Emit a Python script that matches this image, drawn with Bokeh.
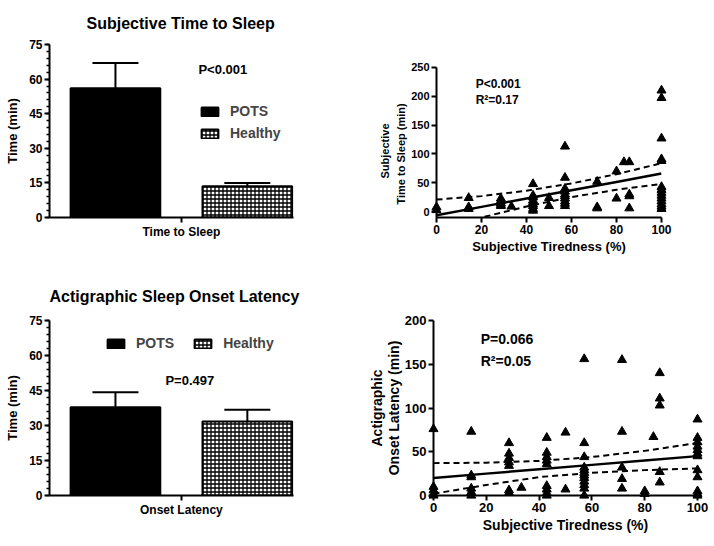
from bokeh.plotting import figure
from bokeh.models import (ColumnDataSource, Range1d, FixedTicker, SingleIntervalTicker,
                          Whisker, TeeHead, Legend, LegendItem, Label, Title)
from bokeh.layouts import column, row
from bokeh.embed import file_html
from bokeh.resources import INLINE

FONT = "Liberation Sans"

# ---------------- data ----------------
groups = ["POTS", "Healthy"]
sleep_mean = [56.0, 13.5]
sleep_sem = [11.0, 1.5]
onset_mean = [37.8, 31.7]
onset_sem = [6.5, 5.0]

# subjective tiredness (%) vs subjective time to sleep (min)
tired_sub = [0, 0,
             14.3, 14.3, 14.3,
             28.6, 28.6, 28.6, 28.6, 28.6,
             33.3,
             42.9, 42.9, 42.9, 42.9, 42.9, 42.9, 42.9, 42.9, 42.9,
             50, 50,
             57.1, 57.1, 57.1, 57.1, 57.1, 57.1, 57.1, 57.1, 57.1, 57.1,
             71.4, 71.4, 71.4,
             80, 80,
             83.3,
             85.7, 85.7, 85.7, 85.7,
             100, 100, 100, 100, 100, 100, 100, 100, 100, 100, 100, 100, 100, 100]
sleep_sub = [8, 3,
             24, 8, 5,
             23, 19, 15, 12, 10,
             9,
             48, 28, 25, 20, 17, 13, 10, 5, 2,
             24, 10,
             113, 59, 40, 35, 30, 27, 23, 18, 14, 10,
             52, 8, 6,
             70, 23,
             86,
             86, 30, 27, 6,
             210, 197, 127, 91, 88, 43, 38, 33, 28, 23, 18, 13, 9, 5]

fit_x = [0, 20, 40, 60, 80, 100]
sub_fit = [-6, 8.4, 22.8, 37.2, 51.6, 66]
sub_upper = [21, 27, 36.5, 49, 65, 84]
sub_lower = [-33, -10, 9, 25.4, 38, 48]

# subjective tiredness (%) vs actigraphic onset latency (min)
tired_act = [0, 0, 0, 0, 0,
             14.3, 14.3, 14.3, 14.3, 14.3, 14.3,
             28.6, 28.6, 28.6, 28.6, 28.6, 28.6, 28.6,
             33.3,
             42.9, 42.9, 42.9, 42.9, 42.9, 42.9, 42.9, 42.9, 42.9,
             50, 50,
             57.1, 57.1, 57.1, 57.1, 57.1, 57.1, 57.1, 57.1, 57.1, 57.1, 57.1, 57.1,
             71.4, 71.4, 71.4, 71.4, 71.4,
             80, 80,
             83.3,
             85.7, 85.7, 85.7, 85.7, 85.7,
             100, 100, 100, 100, 100, 100, 100, 100, 100, 100, 100, 100]
onset_act = [76, 10, 6, 2, 0,
             73, 23, 21, 8, 4, 0,
             60, 48, 43, 38, 34, 6, 3,
             9,
             66, 49, 44, 40, 36, 11, 7, 3, 0,
             72, 7,
             156, 60, 44, 32, 29, 26, 23, 20, 16, 12, 8, 0,
             155, 73, 32, 19, 8,
             5, 2,
             67,
             140, 111, 103, 27, 15,
             87, 66, 61, 56, 52, 48, 45, 29, 21, 5, 2, 0]

act_fit = [20, 25, 30, 35, 40, 45]
act_upper = [37, 37.5, 39.5, 44, 51, 60]
act_lower = [2, 12, 21, 26, 29, 31]

tired_ticks = [0, 20, 40, 60, 80, 100]
sub_ticks = [0, 50, 100, 150, 200, 250]
act_ticks = [0, 50, 100, 150, 200]


def style(p, tick_size, label_size, line_height=1.2):
    p.grid.visible = False
    p.outline_line_color = None
    p.background_fill_color = "white"
    for ax in p.axis:
        ax.axis_line_width = 2
        ax.axis_line_color = "black"
        ax.major_tick_line_width = 2
        ax.major_tick_line_color = "black"
        ax.major_tick_out = 5
        ax.major_tick_in = 0
        ax.minor_tick_out = 3
        ax.minor_tick_in = 0
        ax.minor_tick_line_width = 1.5
        ax.minor_tick_line_color = "black"
        ax.major_label_text_font = FONT
        ax.major_label_text_font_style = "bold"
        ax.major_label_text_font_size = tick_size
        ax.major_label_text_color = "black"
        ax.major_label_standoff = 2
        ax.axis_label_text_font = FONT
        ax.axis_label_text_font_style = "bold"
        ax.axis_label_text_font_size = label_size
        ax.axis_label_text_color = "black"
        ax.axis_label_standoff = 5
        ax.axis_label_text_line_height = line_height


def text_label(p, x, y, text, size):
    p.add_layout(Label(x=x, y=y, text=text,
                       text_font=FONT, text_font_style="bold", text_font_size=size,
                       text_align="left", text_baseline="middle", text_color="black",
                       level="overlay"))


def side_title(p, text, side, size, offset, standoff):
    p.add_layout(Title(text=text, align="left", offset=offset, standoff=standoff,
                       text_font=FONT, text_font_style="bold", text_font_size=size,
                       text_color="black"), side)


def bar_panel(title, title_off, title_standoff, means, sems, xlabel, ptext, pxy,
              legend_loc, orientation, height, mb_top, mb_bottom):
    xs = [i + 1 for i in range(len(groups))]
    p = figure(width=360, height=height, x_range=Range1d(0.5, 2.35), y_range=Range1d(0, 75),
               output_backend="svg", toolbar_location=None,
               min_border_left=49, min_border_right=67,
               min_border_top=mb_top, min_border_bottom=mb_bottom)
    r1 = p.vbar(x=xs[:1], top=means[:1], width=0.68, fill_color="black",
                line_color="black", line_width=2)
    r2 = p.vbar(x=xs[1:], top=means[1:], width=0.68, fill_color="white",
                line_color="black", line_width=2, hatch_pattern="cross",
                hatch_color="black", hatch_scale=4, hatch_weight=1.3)
    wsrc = ColumnDataSource(dict(base=xs, lower=means,
                                 upper=[m + s for m, s in zip(means, sems)]))
    w = Whisker(source=wsrc, base="base", lower="lower", upper="upper",
                dimension="height", line_width=2, line_color="black",
                upper_head=TeeHead(size=46, line_width=2, line_color="black"),
                lower_head=None)
    p.add_layout(w)
    p.xaxis.ticker = FixedTicker(ticks=[1.5])
    p.xaxis.major_label_overrides = {1.5: xlabel}
    p.yaxis.ticker = SingleIntervalTicker(interval=15, num_minor_ticks=5)
    p.yaxis.axis_label = "Time (min)"
    style(p, "12px", "13px")
    p.yaxis.axis_label_standoff = 6
    leg = Legend(items=[LegendItem(label=groups[0], renderers=[r1]),
                        LegendItem(label=groups[1], renderers=[r2])],
                 location=legend_loc, orientation=orientation,
                 border_line_color=None, background_fill_alpha=0,
                 padding=0, margin=0, glyph_width=21, glyph_height=11,
                 label_standoff=10, spacing=6 if orientation == "vertical" else 18,
                 label_text_font=FONT, label_text_font_style="bold",
                 label_text_font_size="14px", label_height=12)
    p.add_layout(leg)
    text_label(p, pxy[0], pxy[1], ptext, "13px")
    side_title(p, title, "above", "16px", title_off, title_standoff)
    return p


def scatter_panel(xv, yv, fit, up, lo, yr, ybounds, yticks, ylabel, ylabel_titles, texts,
                  xtick_size, ytick_size, xlabel_size, label_size, height, width, mb,
                  text_size, line_height, ylabel_standoff):
    p = figure(width=width, height=height, x_range=Range1d(0, 100), y_range=Range1d(*yr),
               output_backend="svg", toolbar_location=None,
               min_border_left=mb[0], min_border_right=mb[1],
               min_border_top=mb[2], min_border_bottom=mb[3])
    p.line(fit_x, fit, line_width=2.5, line_color="black")
    p.line(fit_x, up, line_width=2, line_color="black", line_dash="6 4")
    p.line(fit_x, lo, line_width=2, line_color="black", line_dash="6 4")
    p.scatter(xv, yv, marker="triangle", size=9, fill_color="black", line_color="black",
              level="overlay")
    p.xaxis.ticker = FixedTicker(ticks=tired_ticks)
    p.yaxis.ticker = FixedTicker(ticks=yticks)
    p.yaxis.bounds = ybounds
    p.xaxis.axis_label = "Subjective Tiredness (%)"
    style(p, xtick_size, label_size, line_height)
    p.yaxis.major_label_text_font_size = ytick_size
    p.xaxis.axis_label_text_font_size = xlabel_size
    p.xaxis.axis_label_standoff = 2
    p.yaxis.axis_label_standoff = ylabel_standoff
    if ylabel_titles is None:
        p.yaxis.axis_label = ylabel
    else:
        # two-line y label as side titles, inner line first
        for line, (off, so) in zip(reversed(ylabel.split("\n")), ylabel_titles):
            side_title(p, line, "left", label_size, off, so)
    for (tx, ty, t) in texts:
        text_label(p, tx, ty, t, text_size)
    return p


pA = bar_panel("Subjective Time to Sleep", 37, 25, sleep_mean, sleep_sem,
               "Time to Sleep", "P<0.001", (1.629, 64.1), (150, 76), "vertical", 265, 42, 48)
pC = bar_panel("Actigraphic Sleep Onset Latency", 0, 32, onset_mean, onset_sem,
               "Onset Latency", "P=0.497", (1.379, 49.3), (56, 144), "horizontal",
               281, 55, 51)

# top-right frame is taller than its axis (row frames share a top edge); axis stops at 250
pB = scatter_panel(tired_sub, sleep_sub, sub_fit, sub_upper, sub_lower, (-10, 289.5), (-10, 250),
                   sub_ticks, "Subjective\nTime to Sleep (min)", [(13, 3), (39, 2)],
                   [(17.4, 220.7, "P<0.001"), (17.4, 193, "R²=0.17")],
                   "12px", "11px", "13px", "11px", 265, 354, (76, 53, 42, 48), "12px", 1.25, 3)
pD = scatter_panel(tired_act, onset_act, act_fit, act_upper, act_lower, (0, 200), (0, 200),
                   act_ticks, "Actigraphic\nOnset Latency (min)", None,
                   [(17.9, 178.7, "P=0.066"), (17.9, 153.7, "R²=0.05")],
                   "13px", "13px", "14px", "14px", 281, 354, (73, 17, 54, 51), "14px", 1.05, 0)

layout = column(row(pA, pB), row(pC, pD))

with open("out.html", "w") as f:
    f.write(file_html(layout, INLINE))
